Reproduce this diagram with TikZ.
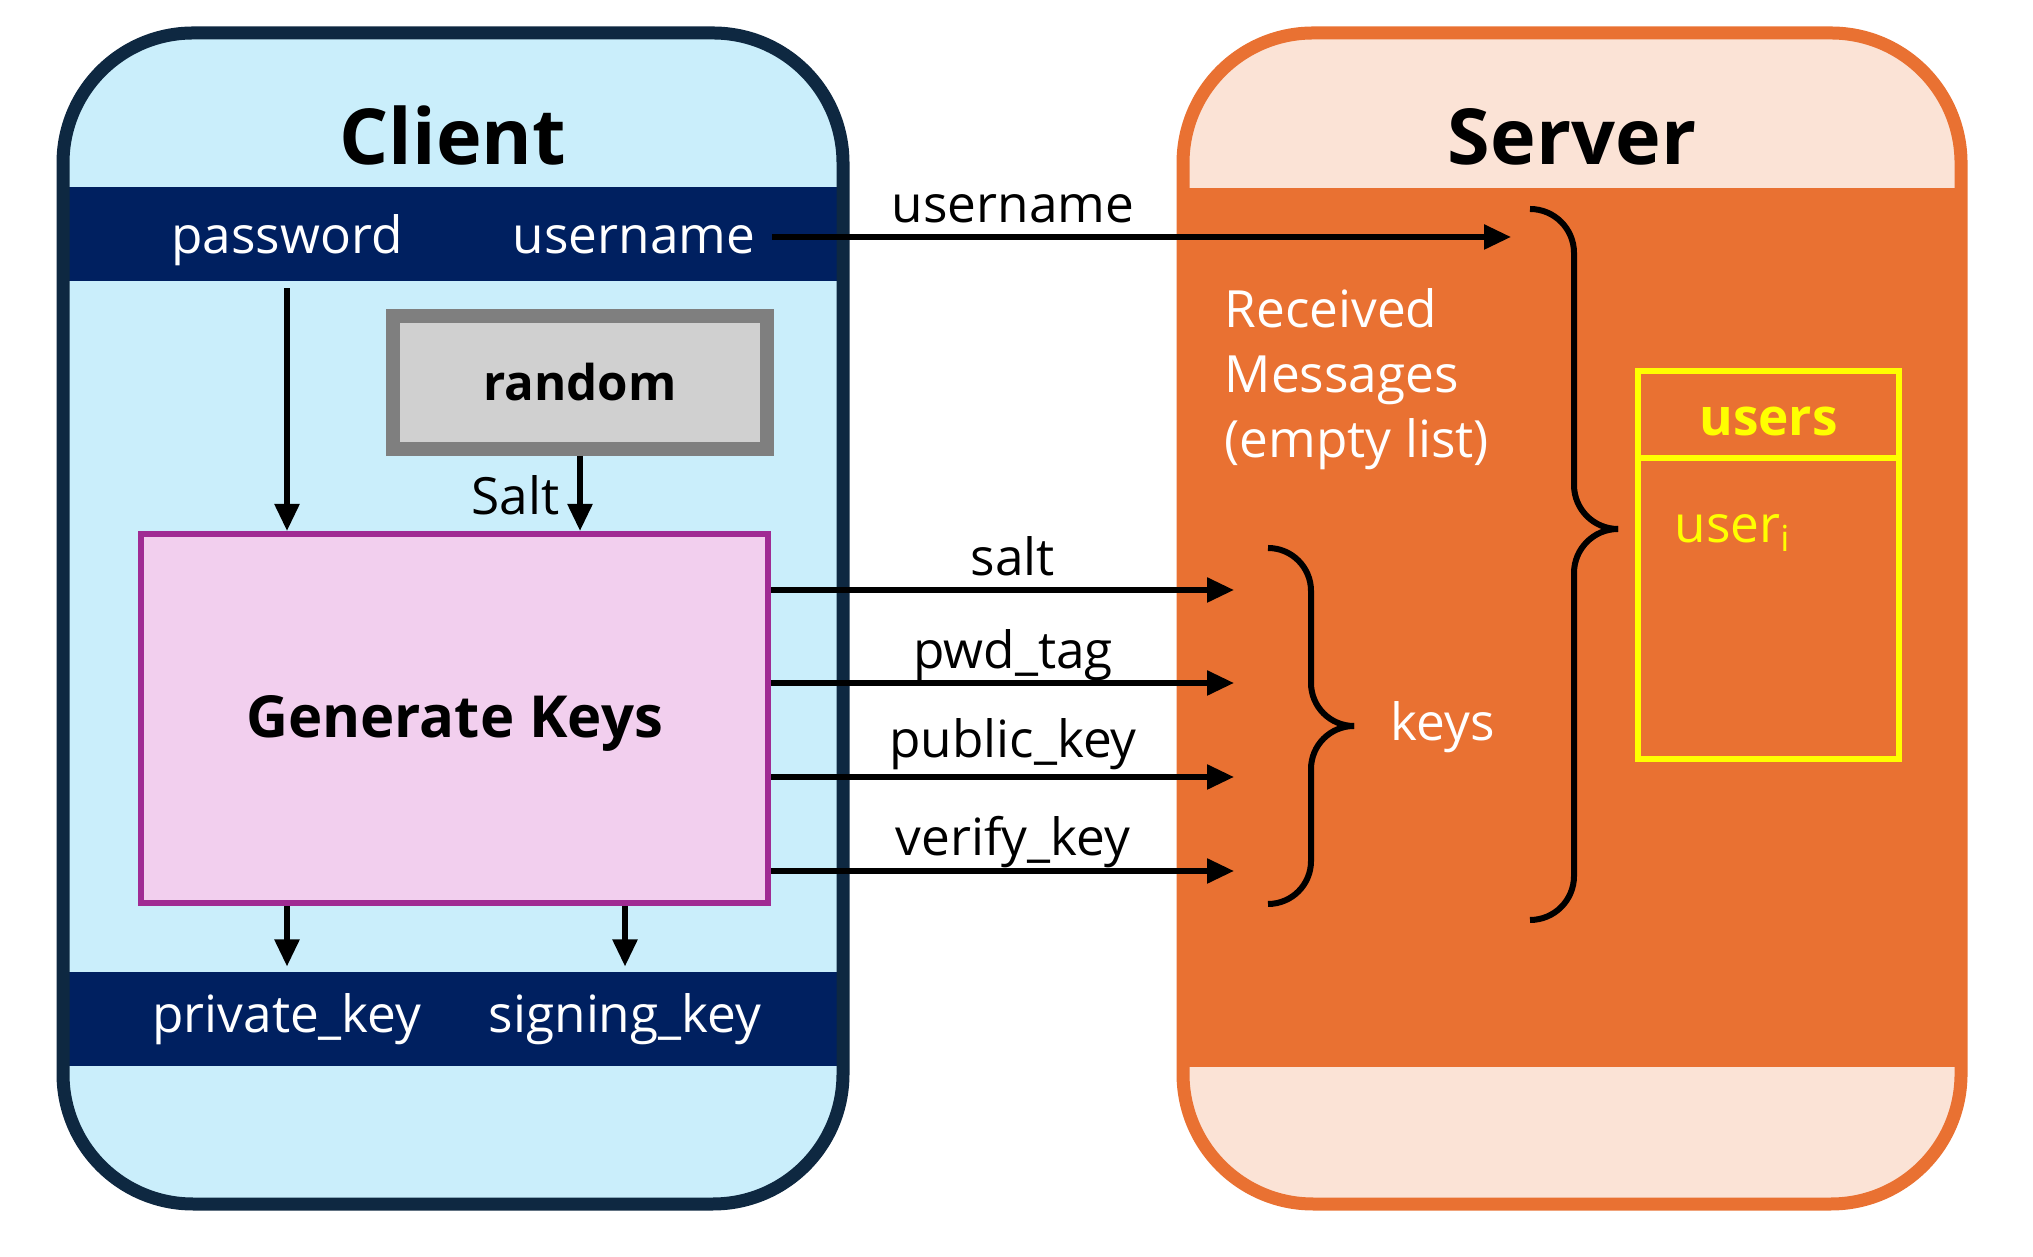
\documentclass[tikz,border=0pt]{standalone}
\usepackage{fontspec}
\setmainfont{Open Sans}
\usepackage{xcolor}
\usepackage{tikz}
\usetikzlibrary{arrows.meta,positioning}

\definecolor{clientbg}{HTML}{CAEEFB}
\definecolor{clientln}{HTML}{0E2841}
\definecolor{navyband}{HTML}{002060}
\definecolor{randbg}{HTML}{D0D0D0}
\definecolor{randln}{HTML}{7F7F7F}
\definecolor{genbg}{HTML}{F2CFEE}
\definecolor{genln}{HTML}{A02B93}
\definecolor{serverbg}{HTML}{FBE3D6}
\definecolor{serverln}{HTML}{E97132}
\definecolor{usersln}{HTML}{FFFF00}

\tikzset{
  txt/.style={inner sep=0pt, font=\fontsize{14.6}{18.5}\selectfont},
  title/.style={inner sep=0pt, font=\fontsize{22}{26}\selectfont\bfseries},
  band/.style={fill=navyband, minimum width=7.8cm, minimum height=0.94cm, inner sep=0pt, outer sep=0pt},
  arr/.style={line width=0.055cm, -{Triangle[length=0.27cm,width=0.24cm]}},
  curly/.style={line width=0.06cm, rounded corners=0.43cm},
  usersbox/.style={draw=usersln, line width=0.06cm, minimum width=2.61cm, inner sep=0pt, outer sep=0pt},
}

\begin{document}
\begin{tikzpicture}
    \useasboundingbox (0,0) rectangle (20.33,12.56);

    % client side
    \fill[clientbg, rounded corners=1.3cm] (0.63,0.52) rectangle (8.43,12.23);
    \node[band] (band-top) at (4.53,10.215) {};
    \node[band] (band-bot) at (4.53,2.365) {};
    \draw[clientln, line width=0.13cm, rounded corners=1.3cm] (0.63,0.52) rectangle (8.43,12.23);

    \node[title, anchor=base] (client) at (4.53,10.91) {Client};
    \node[txt, white, anchor=base] (pwd) at (2.87,10.02) {password};
    \node[txt, white, anchor=base] (uname) at (6.34,10.02) {username};
    \node[txt, white, anchor=base] (privk) at (2.87,2.23) {private\_key};
    \node[txt, white, anchor=base] (signk) at (6.25,2.23) {signing\_key};

    \node[draw=randln, fill=randbg, line width=0.14cm, minimum width=3.74cm, minimum height=1.33cm,
          font=\fontsize{14}{17}\selectfont\bfseries] (rand) at (5.80,8.735) {random};
    \node[draw=genln, fill=genbg, line width=0.06cm, minimum width=6.27cm, minimum height=3.69cm,
          text height=0.45cm, text depth=0.06cm,
          font=\fontsize{16.5}{20}\selectfont\bfseries] (gen) at (4.545,5.375) {Generate Keys};

    \draw[arr, shorten <=0.07cm] (band-top.south -| pwd) -- (gen.north -| pwd);
    \draw[arr] (rand.south) -- (gen.north -| rand.south);
    \node[txt, anchor=base east] (salt-lbl) at (5.60,7.41) {Salt};
    \draw[arr, shorten >=0.06cm] (gen.south -| privk) -- (band-bot.north -| privk);
    \draw[arr, shorten >=0.06cm] (gen.south -| signk) -- (band-bot.north -| signk);

    % server side
    \fill[serverbg, rounded corners=1.3cm] (11.83,0.52) rectangle (19.61,12.23);
    \fill[serverln] (11.83,1.89) rectangle (19.61,10.68);
    \draw[serverln, line width=0.13cm, rounded corners=1.3cm] (11.83,0.52) rectangle (19.61,12.23);

    \node[title, anchor=base] (server) at (15.72,10.91) {Server};
    \node[txt, white, anchor=north west, align=left] (recv) at (12.24,9.68) {Received\\Messages\\(empty list)};

    % messages
    \coordinate (msg-in) at (15.11,10.19);
    \draw[arr, shorten <=0.16cm] (uname.east |- msg-in) -- (msg-in);
    \node[txt, anchor=base] (user-lbl) at (10.13,10.33) {username};

    \coordinate (keys-in) at (12.34,5.30);
    \foreach \y/\ly/\t [count=\i] in {6.66/6.80/salt, 5.73/5.87/pwd\_tag, 4.79/4.98/public\_key, 3.85/4.00/verify\_key} {
        \draw[arr] (gen.east |- 0,\y) -- (keys-in |- 0,\y);
        \node[txt, anchor=base] (key-\i) at (10.13,\ly) {\t};
    }

    % braces
    \draw[curly] (12.68,7.08) -| (13.11,5.30) -- (13.54,5.30);
    \draw[curly] (12.68,3.52) -| (13.11,5.30) -- (13.54,5.30);
    \node[txt, white, anchor=base west] (keys) at (13.90,5.15) {keys};

    \draw[curly, rounded corners=0.44cm] (15.30,10.47) -| (15.74,7.27) -- (16.18,7.27);
    \draw[curly, rounded corners=0.44cm] (15.30,3.36) -| (15.74,7.27) -- (16.18,7.27);

    % users table
    \node[usersbox, minimum height=0.87cm, text=usersln, text height=0.43cm, text depth=0cm,
          font=\fontsize{14.6}{17}\selectfont\bfseries] (users) at (17.685,8.415) {users};
    \node[usersbox, minimum height=3.01cm, below=0pt of users] (users-list) {};
    \node[txt, text=usersln, anchor=base west] (user-i) at (16.74,7.13) {user\textsubscript{i}};
\end{tikzpicture}
\end{document}
